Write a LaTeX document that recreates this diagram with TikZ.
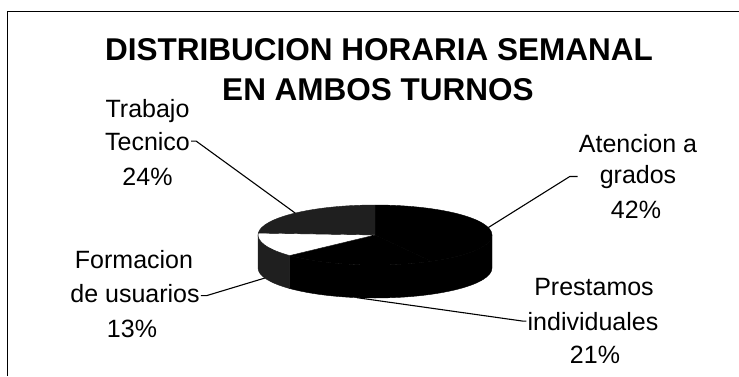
\documentclass[tikz,border=0pt]{standalone}
\usepackage{fontspec}
\setsansfont{Liberation Sans}

\begin{document}
\begin{tikzpicture}[x=1pt, y=1pt, font=\sffamily,
    ttl/.style={font=\sffamily\fontsize{31.5}{36}\selectfont\bfseries, anchor=base, inner sep=0pt},
    lbl/.style={font=\sffamily\fontsize{25}{30}\selectfont, anchor=base, inner sep=1pt},
    leader/.style={line width=1.1pt},
    rim/.style={x radius=117, y radius=30}]
    \useasboundingbox (0,0) rectangle (739,376);
    % frame, only its top and left edges show
    \draw[line width=1pt] (7,0) -- (7,365) -- (739,365);
    % title
    \node[ttl] (title1) at (379,316) {DISTRIBUCION HORARIA SEMANAL};
    \node[ttl] (title2) at (378,276) {EN AMBOS TURNOS};

    % pie, top face centred at (375,141)
    \begin{scope}[shift={(375,141)}]
        % side walls (front half)
        \filldraw[black!88] (180:117 and 30) arc[start angle=180, end angle=223.2, rim]
            -- ++(0,-33) arc[start angle=223.2, end angle=180, rim] -- cycle;
        \filldraw[black] (223.2:117 and 30) arc[start angle=223.2, end angle=360, rim]
            -- ++(0,-33) arc[start angle=360, end angle=223.2, rim] -- cycle;
        % top face
        \filldraw[black] (0,0) -- (-61.2:117 and 30) arc[start angle=-61.2, end angle=90, rim] -- cycle;
        \filldraw[black!88] (0,0) -- (90:117 and 30) arc[start angle=90, end angle=176.4, rim] -- cycle;
        \filldraw[black] (0,0) -- (223.2:117 and 30) arc[start angle=223.2, end angle=298.8, rim] -- cycle;
        \filldraw[fill=white, draw=black] (0,0) -- (176.4:117 and 30) arc[start angle=176.4, end angle=223.2, rim] -- cycle;
        % where the leaders meet the pie
        \coordinate (pTrab) at (133:117 and 30);
        \coordinate (pAten) at (14.4:117 and 30);
        \begin{scope}[yshift=-33pt]
            \coordinate (pForm) at (199.6:117 and 30);
            \coordinate (pPrest) at (-99:117 and 30);
        \end{scope}
    \end{scope}

    % labels
    \node[lbl] (trabajo) at (147.5,259) {Trabajo};
    \node[lbl] (tecnico) at (147.5,226) {Tecnico};
    \node[lbl] (pctTrab) at (147.5,191) {24\%};
    \node[lbl] (atencion) at (638,224) {Atencion a};
    \node[lbl] (grados) at (638,193) {grados};
    \node[lbl] (pctAten) at (636,158) {42\%};
    \node[lbl] (formacion) at (134,108) {Formacion};
    \node[lbl] (usuarios) at (135,73.5) {de usuarios};
    \node[lbl] (pctForm) at (132,39) {13\%};
    \node[lbl] (prestamos) at (594,81) {Prestamos};
    \node[lbl] (individ) at (593,46) {individuales};
    \node[lbl] (pctPrest) at (595,13) {21\%};

    % leader lines
    \draw[leader] (tecnico.east) -- ++(5,0) -- (pTrab);
    \draw[leader] (grados -| atencion.west) -- ++(-8,0) -- (pAten);
    \draw[leader] ([yshift=-2pt]usuarios.east) -- ++(6,0) -- (pForm);
    \draw[leader] (individ.west) -- ++(-4,0) -- (pPrest);
\end{tikzpicture}
\end{document}
